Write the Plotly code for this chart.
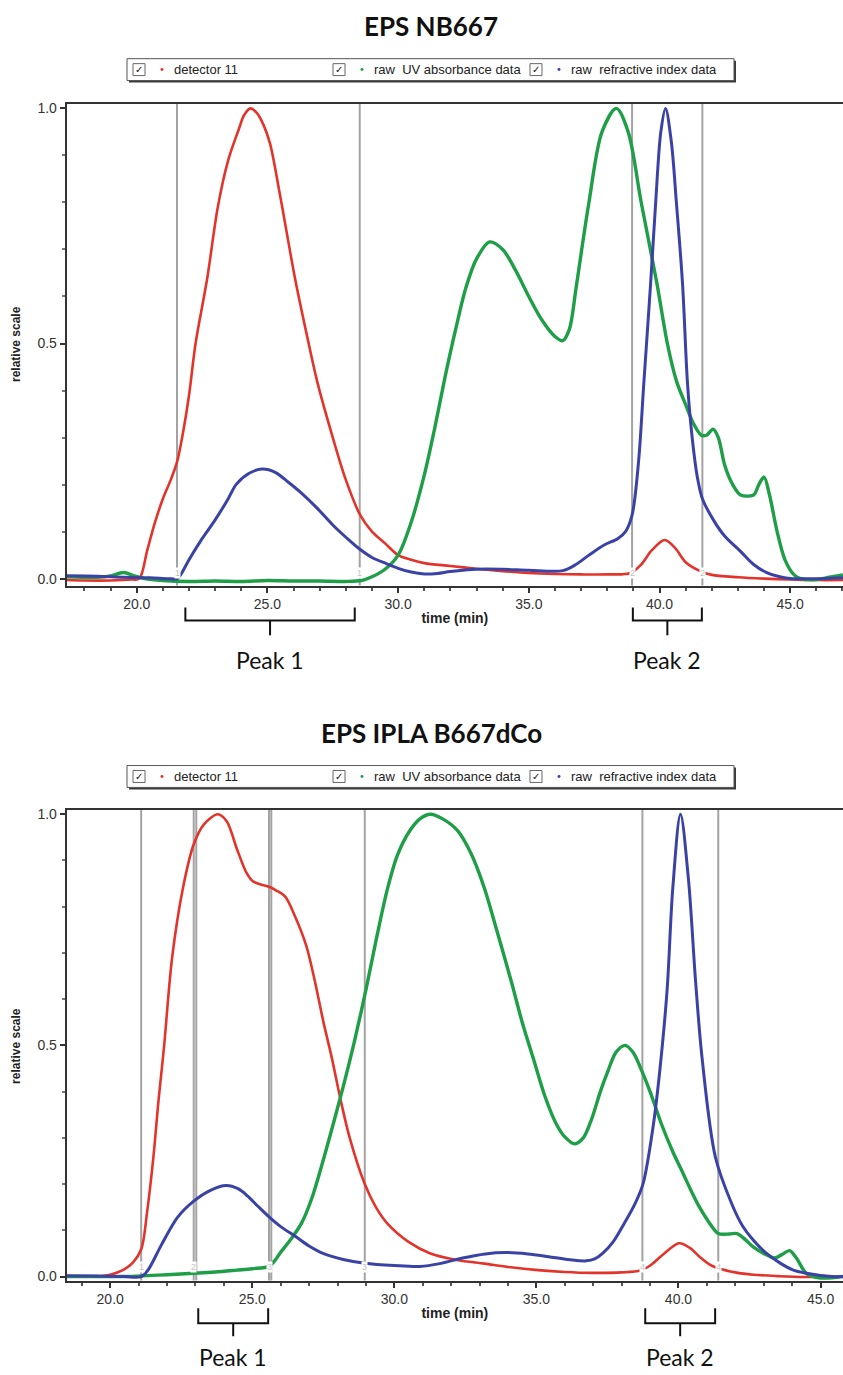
import plotly.graph_objects as go

W, H = 843, 1375

# ---------------- DATA ----------------
titles = ["EPS NB667", "EPS IPLA B667dCo"]
series_names = ["detector 11", "raw  UV absorbance data", "raw  refractive index data"]

# Top chart (EPS NB667)
top_red_t = [17.32, 18.0, 19.0, 19.8, 20.1, 20.4, 20.7, 21.0, 21.3, 21.55, 21.8, 22.0, 22.25, 22.7, 23.1, 23.5,
             23.9, 24.1, 24.35, 24.6, 24.85, 25.1, 25.5, 26.05, 26.5, 26.9, 27.5, 28.0, 28.55, 29.0, 29.5, 30.0,
             30.5, 31.0, 32.0, 33.0, 34.0, 35.0, 36.0, 37.0, 38.0, 38.9, 39.3, 39.7, 40.2, 40.6, 41.0, 41.6,
             42.0, 43.0, 44.0, 45.0, 46.0, 47.02]
top_red_v = [-0.003, -0.004, -0.004, -0.002, 0.0, 0.06, 0.12, 0.17, 0.21, 0.25, 0.32, 0.39, 0.5, 0.64, 0.79, 0.89,
             0.955, 0.985, 1.0, 0.99, 0.965, 0.925, 0.81, 0.64, 0.52, 0.42, 0.3, 0.21, 0.135, 0.1, 0.075, 0.05,
             0.04, 0.033, 0.027, 0.021, 0.016, 0.012, 0.01, 0.009, 0.009, 0.012, 0.03, 0.06, 0.082, 0.065, 0.035, 0.015,
             0.008, 0.003, 0.0, -0.002, -0.003, -0.003]

top_green_t = [17.32, 18.5, 19.0, 19.5, 19.9, 20.3, 21.0, 22.0, 23.0, 24.0, 25.0, 26.0, 27.0, 28.0, 28.6, 29.0,
               29.5, 30.0, 30.5, 31.0, 31.4, 31.8, 32.2, 32.6, 33.0, 33.5, 34.0, 34.5, 35.0, 35.5, 36.0, 36.3,
               36.55, 36.8, 37.05, 37.3, 37.8, 38.35, 38.8, 39.3, 39.9, 40.3, 40.65, 41.0, 41.3, 41.6, 41.8, 42.05,
               42.25, 42.5, 42.8, 43.1, 43.6, 43.8, 44.0, 44.2, 44.5, 44.8, 45.15, 45.4, 46.0, 46.5, 47.02]
top_green_v = [0.004, 0.003, 0.006, 0.013, 0.006, 0.0, -0.004, -0.006, -0.005, -0.006, -0.004, -0.005, -0.005, -0.006, -0.004, 0.004,
               0.02, 0.05, 0.12, 0.22, 0.32, 0.43, 0.53, 0.62, 0.68, 0.716, 0.7, 0.655, 0.6, 0.55, 0.515, 0.506,
               0.53, 0.615, 0.71, 0.8, 0.95, 1.0, 0.95, 0.8, 0.628, 0.5, 0.42, 0.37, 0.33, 0.305, 0.305, 0.318,
               0.3, 0.24, 0.2, 0.178, 0.178, 0.2, 0.216, 0.18, 0.1, 0.04, 0.008, 0.0, -0.002, 0.003, 0.008]

top_blue_t = [17.32, 18.5, 19.5, 20.5, 21.2, 21.55, 21.7, 22.0, 22.5, 23.0, 23.5, 23.8, 24.3, 24.8, 25.3, 25.8,
              26.26, 26.9, 27.5, 28.0, 28.5, 29.0, 29.55, 30.0, 30.5, 31.0, 31.5, 32.0, 33.0, 34.0, 35.0, 36.3,
              36.8, 37.3, 37.9, 38.4, 38.7, 38.95, 39.2, 39.4, 39.66, 39.85, 40.05, 40.23, 40.45, 40.65, 40.88, 41.07,
              41.25, 41.45, 41.64, 42.06, 42.5, 43.1, 43.6, 44.1, 44.6, 45.1, 46.0, 47.02]
top_blue_v = [0.006, 0.005, 0.003, 0.002, 0.0, 0.0, 0.01, 0.04, 0.085, 0.125, 0.17, 0.2, 0.224, 0.233, 0.226, 0.205,
              0.184, 0.15, 0.114, 0.088, 0.064, 0.045, 0.032, 0.022, 0.014, 0.01, 0.011, 0.015, 0.02, 0.02, 0.018, 0.017,
              0.03, 0.05, 0.072, 0.085, 0.1, 0.135, 0.25, 0.416, 0.628, 0.797, 0.95, 1.0, 0.93, 0.797, 0.628, 0.416,
              0.3, 0.215, 0.17, 0.125, 0.09, 0.058, 0.03, 0.013, 0.004, 0.0, 0.0, 0.002]

top_markers_t = [21.54, 28.53, 38.95, 41.64]
top_markers_lbl = ["1", "1", "2", "2"]
top_peaks = [("Peak 1", 21.86, 28.34), ("Peak 2", 38.98, 41.62)]

# Bottom chart (EPS IPLA B667dCo)
bot_red_t = [18.47, 19.5, 20.0, 20.48, 20.8, 21.1, 21.3, 21.52, 21.7, 21.9, 22.18, 22.56, 22.94, 23.3, 23.79, 24.1,
             24.46, 24.8, 25.02, 25.3, 25.59, 25.85, 26.16, 26.5, 26.9, 27.2, 27.5, 27.8, 28.1, 28.43, 28.96, 29.35,
             29.75, 30.5, 31.27, 32.2, 33.17, 34.1, 35.06, 36.0, 36.95, 38.0, 38.66, 39.03, 39.5, 40.02, 40.4, 40.74,
             41.1, 41.4, 42.0, 42.63, 43.5, 44.4, 45.79]
bot_red_v = [0.0, 0.0, 0.004, 0.015, 0.03, 0.06, 0.14, 0.258, 0.38, 0.5, 0.69, 0.84, 0.935, 0.978, 1.0, 0.985,
             0.925, 0.873, 0.855, 0.848, 0.843, 0.835, 0.822, 0.78, 0.716, 0.64, 0.552, 0.473, 0.385, 0.3, 0.2, 0.15,
             0.115, 0.075, 0.05, 0.036, 0.028, 0.02, 0.014, 0.01, 0.008, 0.009, 0.013, 0.025, 0.05, 0.072, 0.062, 0.043,
             0.026, 0.018, 0.009, 0.004, 0.001, -0.001, 0.0]

bot_green_t = [18.47, 19.5, 20.5, 21.3, 22.0, 22.94, 23.7, 24.46, 25.0, 25.59, 25.8, 25.97, 26.35, 26.73, 27.1, 27.49,
               27.85, 28.24, 28.6, 29.0, 29.4, 29.76, 30.1, 30.51, 30.9, 31.27, 31.7, 32.22, 32.7, 33.17, 33.6, 34.11,
               34.5, 34.9, 35.3, 35.7, 36.0, 36.34, 36.65, 36.94, 37.25, 37.52, 37.8, 38.12, 38.4, 38.66, 39.0, 39.4,
               39.8, 40.17, 40.45, 40.74, 41.1, 41.4, 41.8, 42.06, 42.35, 42.63, 43.0, 43.38, 43.65, 43.91, 44.15, 44.5,
               45.0, 45.79]
bot_green_v = [0.0, 0.0, 0.0, 0.002, 0.004, 0.007, 0.01, 0.014, 0.017, 0.022, 0.035, 0.05, 0.08, 0.115, 0.17, 0.25,
               0.33, 0.42, 0.51, 0.62, 0.74, 0.839, 0.91, 0.961, 0.99, 1.0, 0.99, 0.965, 0.915, 0.84, 0.75, 0.64,
               0.55, 0.47, 0.39, 0.33, 0.302, 0.287, 0.3, 0.34, 0.4, 0.445, 0.485, 0.5, 0.485, 0.452, 0.4, 0.33,
               0.27, 0.222, 0.185, 0.15, 0.115, 0.093, 0.092, 0.093, 0.08, 0.064, 0.05, 0.04, 0.048, 0.056, 0.04, 0.007,
               -0.003, 0.0]

bot_blue_t = [18.47, 19.5, 20.5, 21.09, 21.33, 21.8, 22.37, 22.94, 23.51, 24.08, 24.5, 24.84, 25.2, 25.59, 26.0, 26.54,
              27.0, 27.49, 28.2, 28.96, 30.0, 30.9, 31.6, 32.4, 33.2, 33.91, 34.7, 35.43, 36.1, 36.76, 37.05, 37.33,
              37.7, 38.09, 38.45, 38.75, 39.12, 39.35, 39.6, 39.8, 40.07, 40.35, 40.6, 40.83, 41.3, 41.87, 42.25, 42.63,
              43.1, 43.58, 44.0, 44.5, 45.4, 45.79]
bot_blue_v = [0.002, 0.001, 0.0, 0.0, 0.014, 0.068, 0.128, 0.163, 0.186, 0.197, 0.19, 0.174, 0.152, 0.129, 0.108, 0.086,
              0.066, 0.05, 0.037, 0.029, 0.024, 0.022, 0.028, 0.04, 0.049, 0.052, 0.049, 0.043, 0.037, 0.034, 0.038, 0.05,
              0.075, 0.115, 0.155, 0.2, 0.33, 0.45, 0.62, 0.84, 1.0, 0.86, 0.64, 0.473, 0.258, 0.158, 0.11, 0.079,
              0.05, 0.029, 0.015, 0.007, 0.0, 0.0]

bot_markers_t = [21.09, 22.94, 23.03, 25.59, 25.67, 28.96, 38.73, 41.4]
bot_markers_lbl = ["1", "2", "", "3", "", "3", "4", "4"]
bot_peaks = [("Peak 1", 23.1, 25.56), ("Peak 2", 38.83, 41.29)]

# ---------------- STYLE ----------------
RED, GREEN, BLUE = "#e3342b", "#1f9e48", "#3a42a6"
AX = "#333333"
TICKFONT = dict(family="Liberation Sans, Arial", size=14, color="#333333")


def pxp(p):
    return p / W


def pyp(p):
    return 1 - p / H


fig = go.Figure()

panels = [
    dict(xa="x", ya="y", red=(top_red_t, top_red_v), green=(top_green_t, top_green_v), blue=(top_blue_t, top_blue_v)),
    dict(xa="x2", ya="y2", red=(bot_red_t, bot_red_v), green=(bot_green_t, bot_green_v), blue=(bot_blue_t, bot_blue_v)),
]
for p in panels:
    for key, col, wdt, name in (("red", RED, 2.6, series_names[0]), ("green", GREEN, 3.4, series_names[1]),
                                ("blue", BLUE, 3.0, series_names[2])):
        t, v = p[key]
        fig.add_trace(go.Scatter(x=t, y=v, mode="lines", name=name, showlegend=False,
                                 line=dict(color=col, width=wdt, shape="spline", smoothing=0.9),
                                 xaxis=p["xa"], yaxis=p["ya"], hoverinfo="skip"))

shapes = []
annotations = []

# vertical segment markers
for xref, yref, ts, lbls, ylab in (("x", "y", top_markers_t, top_markers_lbl, 0.012),
                                   ("x2", "y2", bot_markers_t, bot_markers_lbl, 0.02)):
    for t, lb in zip(ts, lbls):
        shapes.append(dict(type="line", xref=xref, yref=yref + " domain", x0=t, x1=t, y0=0, y1=1,
                           line=dict(color="#a3a3a3", width=2), layer="below"))
        if lb:
            annotations.append(dict(x=t, y=ylab, xref=xref, yref=yref, text=lb, showarrow=False,
                                    font=dict(family="Liberation Sans, Arial", size=9, color="#c4c4c4"),
                                    bgcolor="white", borderpad=0))

# peak brackets + labels
for xref, peaks, ytop, yh, ystem, ylab in (("x", top_peaks, 607, 620, 635, 660),
                                            ("x2", bot_peaks, 1312, 1327, 1340, 1361)):
    for lbl, a, b in peaks:
        c = (a + b) / 2
        shapes.append(dict(type="path", xref=xref, yref="paper",
                           path=f"M {a},{pyp(ytop)} L {a},{pyp(yh)} L {b},{pyp(yh)} L {b},{pyp(ytop)}",
                           line=dict(color="#111111", width=2)))
        shapes.append(dict(type="line", xref=xref, yref="paper", x0=c, x1=c, y0=pyp(yh), y1=pyp(ystem),
                           line=dict(color="#111111", width=2)))
        annotations.append(dict(x=c, y=pyp(ylab), xref=xref, yref="paper", text=lbl, showarrow=False,
                                xanchor="center", yanchor="middle",
                                font=dict(family="Lato", size=23, color="#111111")))

# titles, axis titles and legends
for off, title, ycen in ((0, titles[0], 342), (711, titles[1], 1048)):
    annotations.append(dict(x=pxp(431), y=pyp(22 + off), xref="paper", yref="paper", text=f"<b>{title}</b>",
                            showarrow=False, xanchor="center", yanchor="middle",
                            font=dict(family="Lato", size=26, color="#111111")))
    annotations.append(dict(x=pxp(16), y=pyp(ycen), xref="paper", yref="paper", text="<b>relative scale</b>",
                            showarrow=False, textangle=-90, xanchor="center", yanchor="middle",
                            font=dict(family="Liberation Sans, Arial", size=12, color="#222222")))
    # legend box with shadow
    shapes.append(dict(type="rect", xref="paper", yref="paper", x0=pxp(129), x1=pxp(736),
                       y0=pyp(79 + off), y1=pyp(57 + off), fillcolor="#3a3a3a", line=dict(width=0)))
    shapes.append(dict(type="rect", xref="paper", yref="paper", x0=pxp(127), x1=pxp(734),
                       y0=pyp(77 + off), y1=pyp(55 + off), fillcolor="white", line=dict(color="#555555", width=1)))
    for cx, col, name in ((133, RED, series_names[0]), (333, GREEN, series_names[1]), (530, BLUE, series_names[2])):
        shapes.append(dict(type="rect", xref="paper", yref="paper", x0=pxp(cx), x1=pxp(cx + 12),
                           y0=pyp(72 + off), y1=pyp(60 + off), fillcolor="white",
                           line=dict(color="#666666", width=1)))
        annotations.append(dict(x=pxp(cx + 6), y=pyp(66 + off), xref="paper", yref="paper", text="✓",
                                showarrow=False, xanchor="center", yanchor="middle",
                                font=dict(family="DejaVu Sans", size=10, color="#111111")))
        shapes.append(dict(type="circle", xref="paper", yref="paper", x0=pxp(cx + 27.5), x1=pxp(cx + 30.5),
                           y0=pyp(67.5 + off), y1=pyp(64.5 + off), fillcolor=col, line=dict(width=0)))
        annotations.append(dict(x=pxp(cx + 39), y=pyp(66 + off), xref="paper", yref="paper",
                                text=name.replace("  ", "&nbsp; "),
                                showarrow=False, xanchor="left", yanchor="middle",
                                font=dict(family="Liberation Sans, Arial", size=13, color="#222222")))

xcommon = dict(showgrid=False, zeroline=False, showline=True, linecolor=AX, linewidth=2, mirror=True,
               ticks="outside", ticklen=5, tickwidth=1.5, tickcolor=AX, tickmode="linear", tick0=0, dtick=5,
               tickformat=".1f", tickfont=TICKFONT,
               minor=dict(ticks="outside", ticklen=3, tickcolor="#555555", dtick=1, tick0=0),
               title=dict(text="<b>time (min)</b>", font=dict(family="Liberation Sans, Arial", size=14, color="#222222"),
                          standoff=2))
ycommon = dict(showgrid=False, zeroline=False, showline=True, linecolor=AX, linewidth=2,
               ticks="outside", ticklen=5, tickwidth=1.5, tickcolor=AX, tickmode="array",
               tickvals=[0, 0.5, 1.0], ticktext=["0.0", "0.5", "1.0"], tickfont=TICKFONT,
               minor=dict(ticks="outside", ticklen=3, tickcolor="#777777", dtick=0.1, tick0=0))

fig.update_layout(
    width=W, height=H, margin=dict(l=0, r=0, t=0, b=0), autosize=False,
    paper_bgcolor="white", plot_bgcolor="white", showlegend=False,
    xaxis=dict(xcommon, domain=[pxp(66.7), 1.0], range=[17.32, 47.02], anchor="y"),
    yaxis=dict(ycommon, domain=[pyp(585), pyp(100.7)], range=[-0.0148, 1.0091], anchor="x"),
    xaxis2=dict(xcommon, domain=[pxp(66.7), 1.0], range=[18.47, 45.79], anchor="y2"),
    yaxis2=dict(ycommon, domain=[pyp(1284), pyp(810.7)], range=[-0.0086, 1.0092], anchor="x2"),
    shapes=shapes, annotations=annotations,
)

fig.write_html("out.html", config={"displayModeBar": False},
               post_script="document.body.style.margin='0';document.documentElement.style.overflow='hidden';")
